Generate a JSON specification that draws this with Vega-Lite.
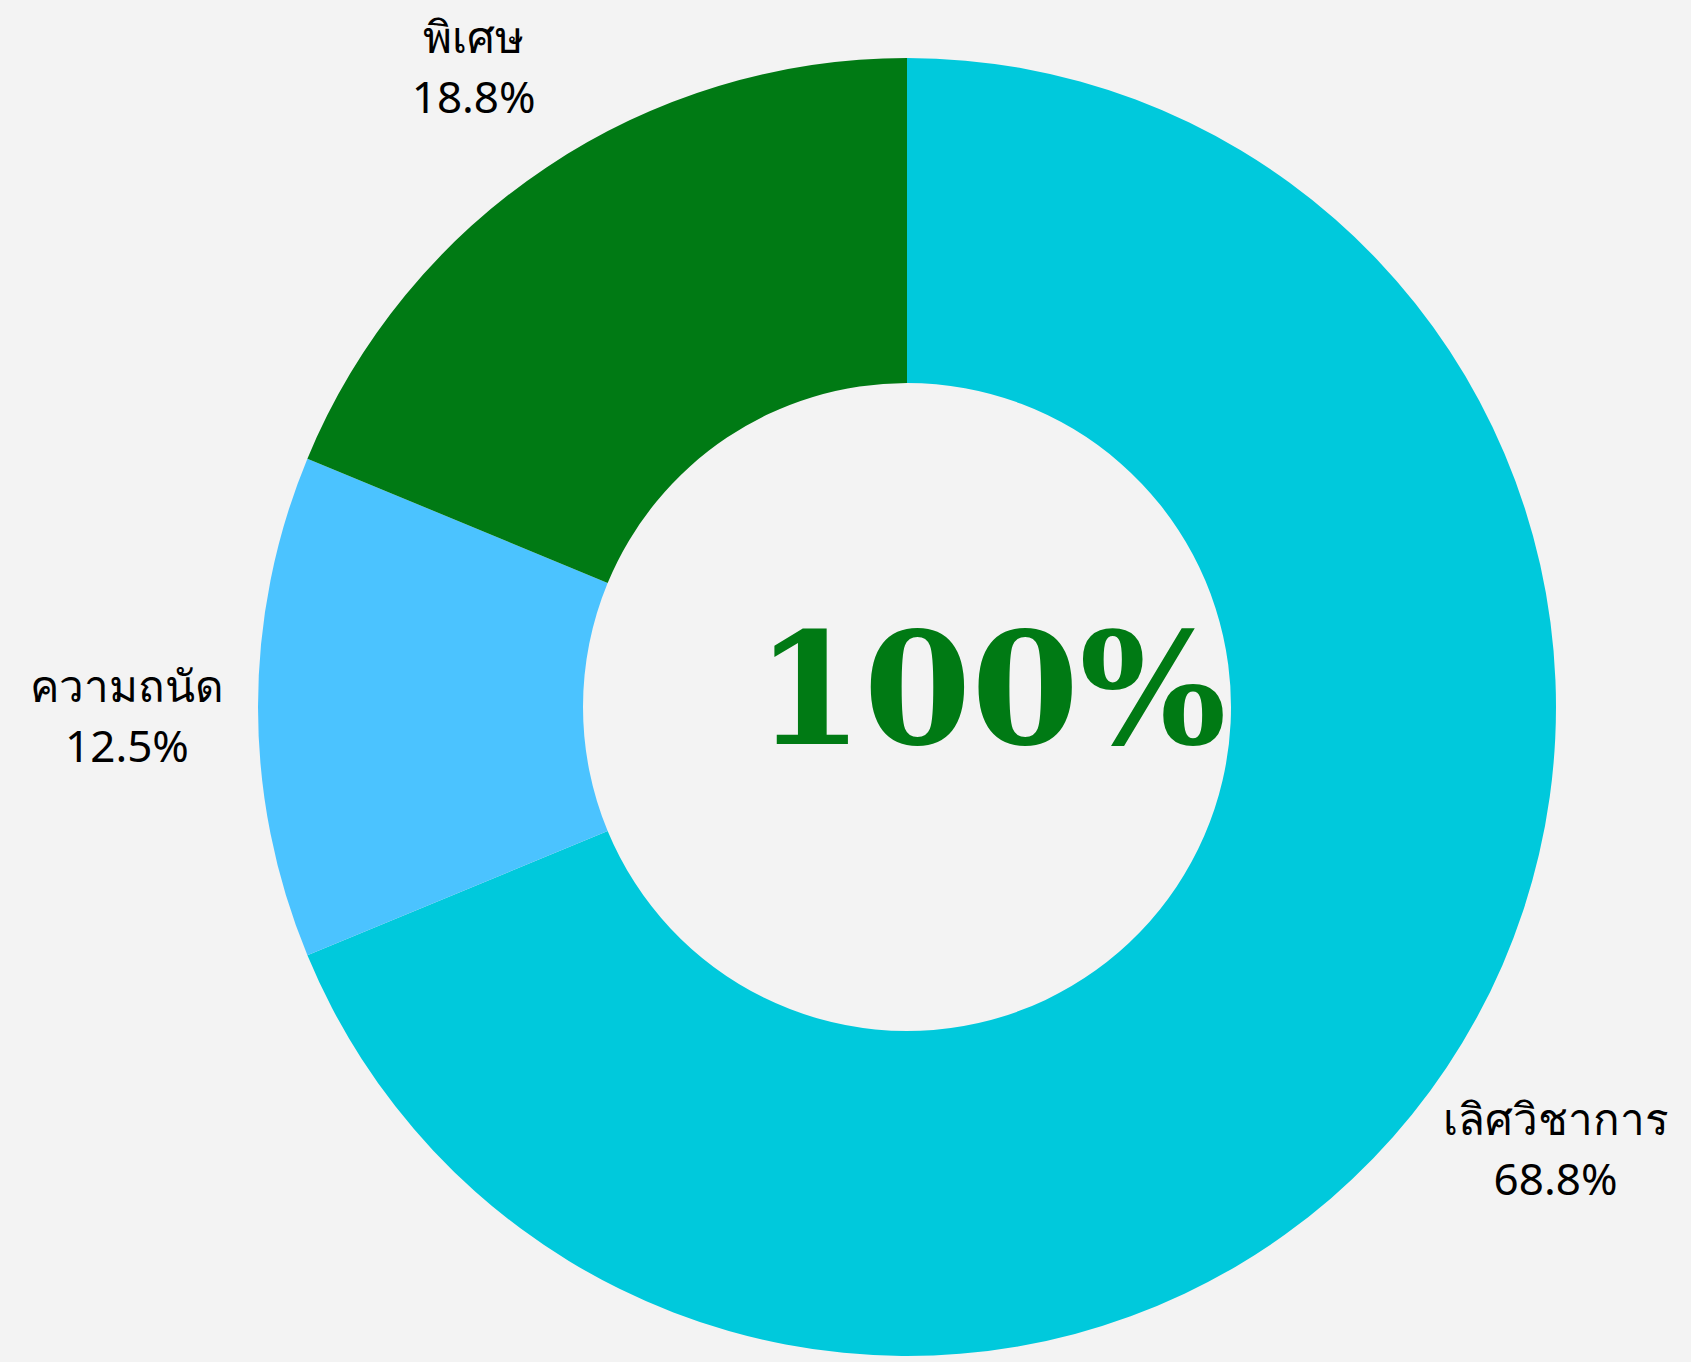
{
  "$schema": "https://vega.github.io/schema/vega-lite/v6.json",
  "width": 1568,
  "height": 1300,
  "autosize": {"type": "none"},
  "padding": {"left": 123, "top": 57, "right": 0, "bottom": 5},
  "background": "#f3f3f3",
  "config": {"view": {"stroke": null}},
  "data": {
    "values": [
      {"cat": "เลิศวิชาการ", "value": 0.6875, "pct": "68.8%", "o": 1},
      {"cat": "ความถนัด", "value": 0.125, "pct": "12.5%", "o": 2},
      {"cat": "พิเศษ", "value": 0.1875, "pct": "18.8%", "o": 3}
    ]
  },
  "layer": [
    {
      "mark": {"type": "arc", "radius": 649, "innerRadius": 324},
      "encoding": {
        "theta": {"field": "value", "type": "quantitative", "stack": true},
        "order": {"field": "o", "type": "quantitative"},
        "color": {
          "field": "cat",
          "type": "nominal",
          "scale": {"domain": ["เลิศวิชาการ", "ความถนัด", "พิเศษ"], "range": ["#00c9dc", "#4bc3ff", "#007a14"]},
          "legend": null
        }
      }
    },
    {
      "mark": {"type": "text", "radius": 780, "dy": -18, "fontSize": 44, "font": "Noto Sans", "color": "#000000"},
      "encoding": {
        "theta": {"field": "value", "type": "quantitative", "stack": true},
        "order": {"field": "o", "type": "quantitative"},
        "text": {"field": "cat", "type": "nominal"}
      }
    },
    {
      "mark": {"type": "text", "radius": 780, "dy": 42, "fontSize": 44, "font": "Noto Sans", "color": "#000000"},
      "encoding": {
        "theta": {"field": "value", "type": "quantitative", "stack": true},
        "order": {"field": "o", "type": "quantitative"},
        "text": {"field": "pct", "type": "nominal"}
      }
    },
    {
      "data": {"values": [{"t": "100%"}]},
      "mark": {"type": "text", "fontSize": 155, "font": "DejaVu Serif", "fontWeight": "bold", "color": "#007a14", "baseline": "middle", "dx": 84, "dy": -10},
      "encoding": {"text": {"field": "t", "type": "nominal"}}
    }
  ]
}
